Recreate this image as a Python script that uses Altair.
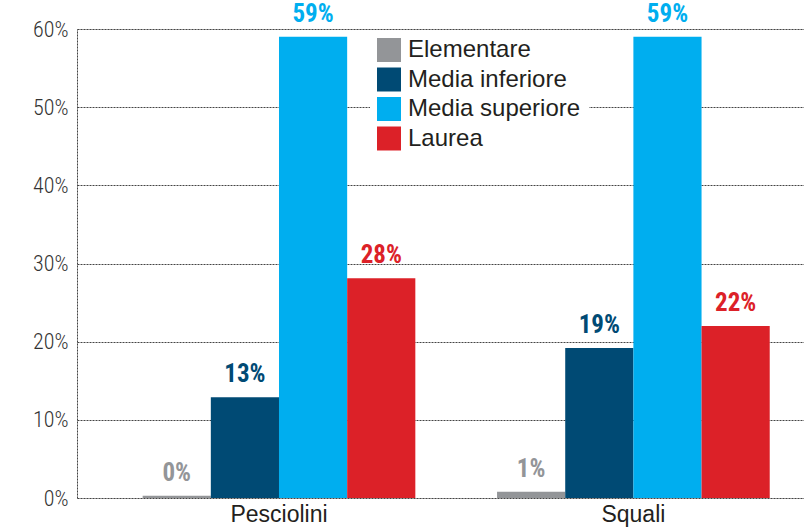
import altair as alt
import pandas as pd

groups = ["Pesciolini", "Squali"]
series = ["Elementare", "Media inferiore", "Media superiore", "Laurea"]
colors = ["#939598", "#004A74", "#00AEEF", "#DC2128"]
values_pesciolini = [0.3, 12.9, 59, 28.1]
values_squali = [0.8, 19.2, 59, 22]
labels_pesciolini = ["0%", "13%", "59%", "28%"]
labels_squali = ["1%", "19%", "59%", "22%"]
y_ticks = [0, 10, 20, 30, 40, 50, 60]

rows = []
for g, vals, labs in [("Pesciolini", values_pesciolini, labels_pesciolini),
                      ("Squali", values_squali, labels_squali)]:
    for s, v, l in zip(series, vals, labs):
        rows.append({"gruppo": g, "serie": s, "valore": v, "etichetta": l})
df = pd.DataFrame(rows)

narrow = "Roboto Condensed, Liberation Sans Narrow, DejaVu Sans Condensed, sans-serif"
regular = "Liberation Sans, Arial, sans-serif"

x_enc = alt.X("gruppo:N", sort=groups, title=None,
              scale=alt.Scale(paddingInner=0.2306, paddingOuter=0.141, align=0.657),
              axis=alt.Axis(labelAngle=0, domain=False, ticks=False, labelFont=regular,
                            labelFontSize=23, labelColor="#231F20", labelPadding=5))
xoff_enc = alt.XOffset("serie:N", sort=series,
                       scale=alt.Scale(domain=series, paddingInner=0, paddingOuter=0))
color_scale = alt.Scale(domain=series, range=colors)

bars = alt.Chart(df).mark_bar().encode(
    x=x_enc,
    xOffset=xoff_enc,
    y=alt.Y("valore:Q", title=None,
            scale=alt.Scale(domain=[0, 60], nice=False),
            axis=alt.Axis(values=y_ticks, labelExpr="datum.value + '%'", ticks=False,
                          labelFont=narrow, labelFontSize=22, labelFontWeight=300,
                          labelColor="#333333",
                          labelPadding=9, grid=True, gridColor="#444444",
                          gridDash=[2, 1], gridWidth=1, domain=True,
                          domainColor="#444444", domainDash=[2, 1], domainWidth=1)),
    color=alt.Color("serie:N", scale=color_scale, sort=series, title=None,
                    legend=alt.Legend(orient="none", legendX=293, legendY=2,
                                      symbolType="square", symbolSize=576,
                                      symbolStrokeWidth=0, symbolOpacity=1,
                                      labelFont=regular, labelFontSize=24,
                                      labelColor="#231F20", labelOffset=7,
                                      labelLimit=400, rowPadding=5.5, padding=7,
                                      fillColor="#ffffff", strokeColor="#ffffff",
                                      zindex=2)),
)

text = alt.Chart(df).mark_text(baseline="bottom", dy=-10, font=narrow,
                               fontSize=25, fontWeight="bold").encode(
    x=alt.X("gruppo:N", sort=groups),
    xOffset=alt.XOffset("serie:N", sort=series),
    y=alt.Y("valore:Q"),
    text="etichetta:N",
    color=alt.Color("serie:N", scale=color_scale, legend=None),
)

chart = (bars + text).properties(
    width=727, height=469,
    autosize=alt.AutoSizeParams(type="none"),
    padding={"left": 77, "top": 29, "right": 0, "bottom": 31},
).configure_view(stroke=None).configure(background="white")

chart.save("out.html", embed_options={"renderer": "svg", "actions": False})
